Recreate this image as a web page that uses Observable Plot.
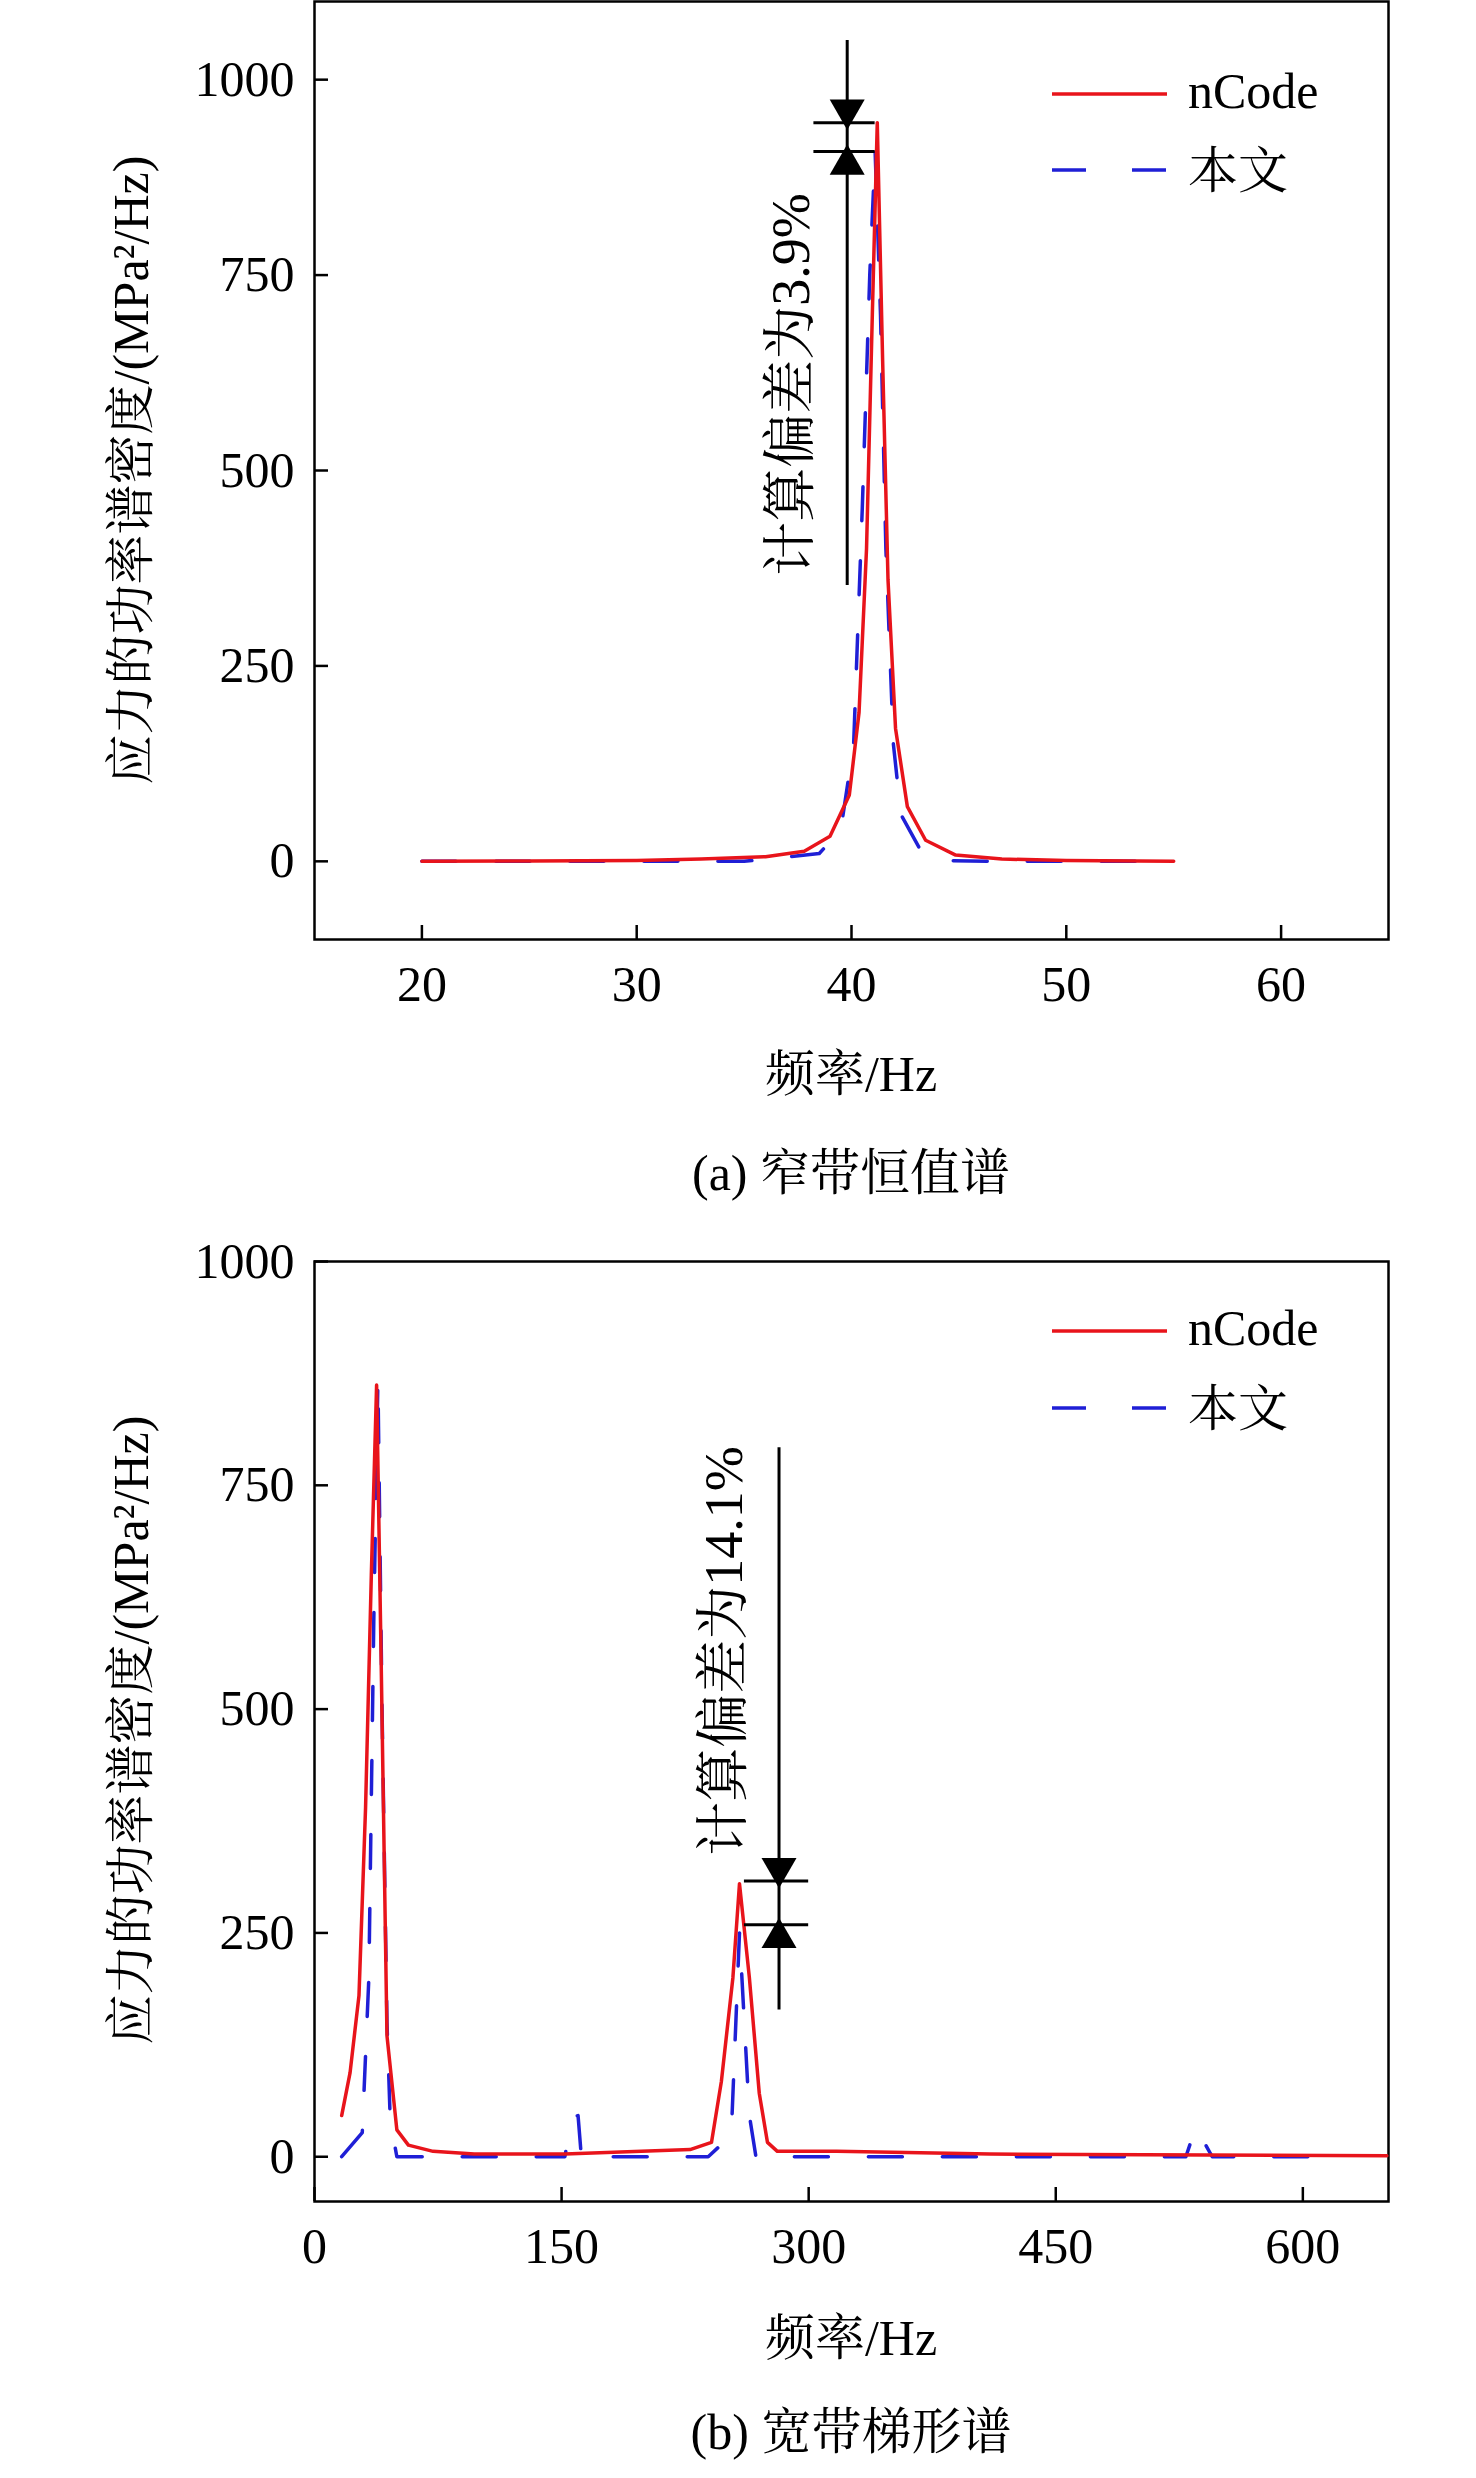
<!DOCTYPE html>
<html><head><meta charset="utf-8">
<script src="https://cdn.jsdelivr.net/npm/d3@7"></script>
<script src="https://cdn.jsdelivr.net/npm/@observablehq/plot@0.6"></script>
<style>
body{margin:0;background:#fff;}
#wrap{position:relative;width:1476px;height:2478px;font-family:"Liberation Serif","Noto Serif CJK SC","Noto Sans CJK SC",serif;}
.abs{position:absolute;white-space:nowrap;color:#000;}
</style></head><body><div id="wrap"></div>
<script>
// Panel (a) 窄带恒值谱
const aNcodeX = [20,25,30,33,36,37.8,39,39.9,40.35,40.7,40.97,41.2,41.45,41.7,42.05,42.6,43.45,44.85,47,50,55];
const aNcodeY = [0,0.5,1,3,6,13,32,85,190,400,700,945,640,360,170,70,27,8,3,1,0];
const aOursX = [20,25,30,35,38.5,39.5,40.1,40.5,40.85,41.1,41.35,41.6,41.95,42.3,43.3,44,47,55];
const aOursY = [0,0,0,0,10,40,150,450,750,908,700,400,150,60,10,1,0,0];
// Panel (b) 宽带梯形谱
const bNcodeX = [16.5,21.6,27,31,34.5,37.7,40.5,44,50,57,72,97,152,228,241,247,254,258,264,270,275,281,317,410,651];
const bNcodeY = [46,94,180,390,650,862,550,135,30,13,6,3,3,8,16,84,200,305,200,71,16,6,6,3,1];
const bOursX = [16.5,29,33,36,38.5,41,44,46,50,57,152,156,160,162,239,253,258,264,268,529,535,545,627];
const bOursY = [0,27,200,600,868,500,150,40,0,0,0,43,46,0,0,24,250,46,0,0,33,0,0];
const seriesNames = ["nCode","本文"];
const colors = ["#e8141b","#1f1fd6"];
const annA = {x:39.8, top:1050, bottom:353, hi:945, lo:908, x1:38.25, x2:41.1, tx:37.2, ty:610, text:"计算偏差为3.9%"};
const annB = {x:282, top:792, bottom:164, hi:308, lo:259, x1:261, x2:300, tx:249, ty:565, text:"计算偏差为14.1%"};

const FS = 50, FONT = '"Liberation Serif","Noto Serif CJK SC","Noto Sans CJK SC",serif';
const wrap = document.getElementById("wrap");

function mk(xs, ys){ return xs.map((x,i)=>({x, y:ys[i]})); }

function panel(opts){
  const {xDomain,yDomain,xTicks,yTicks,height,mt,mb,nc,ou,ann} = opts;
  const ml=314, mr=88;
  return Plot.plot({
    width:1476, height, marginLeft:ml, marginRight:mr, marginTop:mt, marginBottom:mb,
    style:{fontFamily:FONT, fontSize:FS+"px", color:"#000", background:"transparent"},
    x:{domain:xDomain, ticks:xTicks},
    y:{domain:yDomain, ticks:yTicks},
    marks:[
      Plot.axisX({ticks:xTicks, tickFormat:d3.format("d"), tickSize:-14, tickPadding:40, label:null, fontSize:FS, stroke:"#000", strokeWidth:2.5}),
      Plot.axisY({ticks:yTicks, tickFormat:d3.format("d"), tickSize:-14, tickPadding:34, label:null, fontSize:FS, stroke:"#000", strokeWidth:2.5}),
      Plot.frame({stroke:"#000", strokeWidth:2.5}),
      Plot.line(ou, {x:"x", y:"y", stroke:colors[1], strokeWidth:3.5, strokeDasharray:"34,40"}),
      Plot.line(nc, {x:"x", y:"y", stroke:colors[0], strokeWidth:3.5}),
      Plot.ruleX([ann.x], {y1:ann.bottom, y2:ann.top, stroke:"#000", strokeWidth:3}),
      Plot.ruleY([ann.hi, ann.lo], {x1:ann.x1, x2:ann.x2, stroke:"#000", strokeWidth:3}),
      Plot.dot([{x:ann.x, y:ann.hi}], {x:"x", y:"y", symbol:"triangle", rotate:180, r:13, fill:"#000", stroke:null, dy:-13}),
      Plot.dot([{x:ann.x, y:ann.lo}], {x:"x", y:"y", symbol:"triangle", r:13, fill:"#000", stroke:null, dy:13}),
      Plot.text([ann.text], {x:ann.tx, y:ann.ty, rotate:-90, fontSize:FS+4, fill:"#000"})
    ]
  });
}

function place(el, top){ el.style.position="absolute"; el.style.left="0px"; el.style.top=top+"px"; wrap.appendChild(el); }
function label(text, cx, cy, rot){
  const d=document.createElement("div"); d.className="abs"; d.textContent=text;
  d.style.fontSize=FS+"px"; d.style.left=cx+"px"; d.style.top=cy+"px";
  d.style.transform="translate(-50%,-50%)"+(rot?" rotate(-90deg)":"");
  wrap.appendChild(d);
}
function legend(y1, y2){
  const ns="http://www.w3.org/2000/svg";
  const s=document.createElementNS(ns,"svg"); s.setAttribute("width","130"); s.setAttribute("height",(y2-y1+20)+"");
  s.style.position="absolute"; s.style.left="1050px"; s.style.top=(y1-10)+"px";
  [[10,0,"none"],[10+y2-y1,1,"34,46"]].forEach(([yy,i,da])=>{
    const l=document.createElementNS(ns,"line"); l.setAttribute("x1","2"); l.setAttribute("x2","117");
    l.setAttribute("y1",yy); l.setAttribute("y2",yy); l.setAttribute("stroke",colors[i]); l.setAttribute("stroke-width","3.5");
    if(da!=="none") l.setAttribute("stroke-dasharray",da);
    s.appendChild(l);
  });
  wrap.appendChild(s);
  [y1,y2].forEach((yy,i)=>{
    const d=document.createElement("div"); d.className="abs"; d.textContent=seriesNames[i];
    d.style.fontSize=FS+"px"; d.style.left="1188px"; d.style.top=yy+"px"; d.style.transform="translateY(-55%)";
    wrap.appendChild(d);
  });
}

const pa = panel({xDomain:[15,65], yDomain:[-100,1100], xTicks:[20,30,40,50,60], yTicks:[0,250,500,750,1000],
  height:1110, mt:1, mb:171, nc:mk(aNcodeX,aNcodeY), ou:mk(aOursX,aOursY), ann:annA});
place(pa, 0);
const pb = panel({xDomain:[0,652], yDomain:[-50,1000], xTicks:[0,150,300,450,600], yTicks:[0,250,500,750,1000],
  height:1130, mt:25, mb:165, nc:mk(bNcodeX,bNcodeY), ou:mk(bOursX,bOursY), ann:annB});
place(pb, 1236);

label("应力的功率谱密度/(MPa²/Hz)", 126, 470, true);
label("应力的功率谱密度/(MPa²/Hz)", 126, 1730, true);
label("频率/Hz", 851, 1069, false);
label("频率/Hz", 851, 2333, false);
label("(a) 窄带恒值谱", 851, 1168, false);
label("(b) 宽带梯形谱", 851, 2427, false);
legend(94, 170);
legend(1331, 1408);
</script></body></html>
